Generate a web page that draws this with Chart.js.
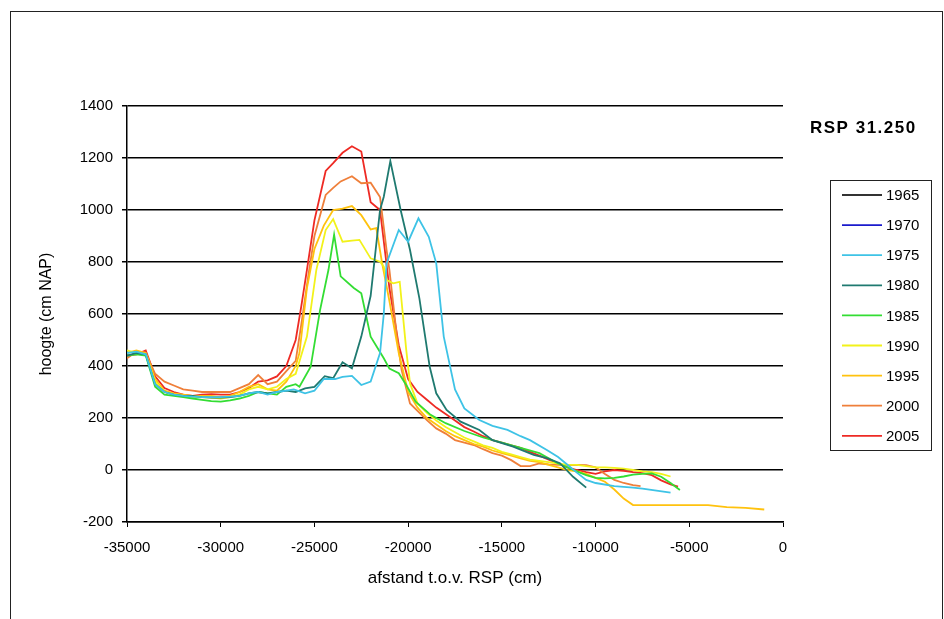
<!DOCTYPE html>
<html>
<head>
<meta charset="utf-8">
<script src="https://cdn.jsdelivr.net/npm/chart.js@4.4.1/dist/chart.umd.min.js"></script>
<style>
  html, body { margin: 0; padding: 0; background: #fff; overflow: hidden; }
  #frame { position: absolute; left: 10px; top: 11px; width: 931px; height: 700px; border: 1px solid #222; }
  #chart { position: absolute; left: 0; top: 0; }
</style>
</head>
<body>
<div id="frame"></div>
<canvas id="chart" width="944" height="619"></canvas>
<script>
// profielmetingen RSP 31.250: [afstand t.o.v. RSP (cm), hoogte (cm NAP)]
const years = ['1965', '1970', '1975', '1980', '1985', '1990', '1995', '2000', '2005'];
const lineColors = ['#333333', '#1a1acc', '#3ec3e6', '#1f7a70', '#33dd33', '#f2f21a', '#ffc20e', '#ef7f3a', '#ee2a24'];

const afstandTicks = [-35000, -30000, -25000, -20000, -15000, -10000, -5000, 0];
const hoogteTicks = [-200, 0, 200, 400, 600, 800, 1000, 1200, 1400];

const p1965 = [];
const p1970 = [];
const p1975 = [
    [-35000, 450], [-34500, 455], [-34000, 445], [-33500, 330], [-33000, 300], [-32500, 290],
    [-32000, 285], [-31500, 282], [-31000, 280], [-30500, 280], [-30000, 280], [-29500, 282],
    [-29000, 285], [-28500, 295], [-28000, 300], [-27500, 290], [-27000, 300], [-26500, 305],
    [-26100, 310], [-25500, 295], [-25000, 305], [-24500, 350], [-23900, 350], [-23500, 358],
    [-23000, 362], [-22500, 327], [-22000, 340], [-21500, 450], [-21300, 600], [-21150, 795],
    [-20500, 923], [-20000, 878], [-19450, 968], [-18900, 897], [-18500, 795], [-18100, 513],
    [-17500, 310], [-17000, 237], [-16200, 192], [-15500, 170], [-14700, 154], [-14000, 130],
    [-13500, 115], [-12600, 77], [-12000, 50], [-11500, 20], [-11000, -10], [-10500, -38],
    [-10000, -50], [-9000, -62], [-8000, -68], [-7500, -72], [-6000, -87],
];
const p1980 = [
    [-35000, 440], [-34500, 450], [-34000, 445], [-33500, 330], [-33000, 300], [-32500, 290],
    [-32000, 285], [-31500, 285], [-31000, 280], [-30500, 278], [-30000, 278], [-29500, 280],
    [-29000, 285], [-28500, 295], [-28000, 300], [-27500, 295], [-27000, 300], [-26500, 305],
    [-26000, 300], [-25500, 314], [-25000, 320], [-24450, 361], [-24000, 353], [-23500, 414],
    [-23000, 391], [-22500, 513], [-22000, 670], [-21500, 1000], [-21300, 1051], [-20950, 1188],
    [-20400, 1000], [-19900, 846], [-19400, 660], [-18850, 397], [-18500, 295], [-17950, 231],
    [-17200, 186], [-16200, 154], [-15500, 115], [-14400, 90], [-13300, 58], [-12600, 46],
    [-11900, 26], [-11200, -26], [-10500, -68],
];
const p1985 = [
    [-35000, 440], [-34500, 445], [-34000, 440], [-33500, 320], [-33000, 290], [-32500, 285],
    [-32000, 280], [-31500, 275], [-31000, 270], [-30500, 265], [-30000, 263], [-29500, 268],
    [-29000, 275], [-28500, 285], [-28000, 300], [-27500, 295], [-27000, 290], [-26500, 320],
    [-26000, 330], [-25800, 320], [-25200, 397], [-24700, 615], [-24250, 770], [-23950, 905],
    [-23600, 745], [-22900, 700], [-22500, 680], [-22000, 513], [-21300, 430], [-21000, 390],
    [-20500, 372], [-20100, 327], [-19600, 263], [-18800, 212], [-18000, 180], [-17000, 150],
    [-16000, 125], [-15000, 105], [-14000, 85], [-13000, 65], [-12500, 45], [-12000, 25],
    [-11500, 10], [-11000, -5], [-10500, -20], [-10000, -30], [-9500, -32], [-9000, -30],
    [-8500, -25], [-8000, -18], [-7500, -15], [-7000, -13], [-6500, -26], [-6000, -50], [-5500, -77],
];
const p1990 = [
    [-35000, 460], [-34500, 450], [-34000, 445], [-33500, 340], [-33000, 300], [-32500, 290],
    [-32000, 285], [-31500, 280], [-31000, 280], [-30500, 278], [-30000, 275], [-29500, 280],
    [-29000, 290], [-28500, 310], [-28000, 320], [-27500, 310], [-27000, 320], [-26500, 350],
    [-26000, 370], [-25400, 513], [-24900, 769], [-24400, 923], [-24000, 965], [-23500, 878],
    [-23000, 882], [-22600, 885], [-22000, 814], [-21500, 801], [-21300, 782], [-21150, 731],
    [-20800, 718], [-20450, 724], [-20100, 461], [-19900, 333], [-19500, 256], [-19000, 220],
    [-18500, 190], [-18000, 165], [-17500, 145], [-17000, 125], [-16500, 110], [-16000, 95],
    [-15500, 85], [-15000, 70], [-14500, 60], [-14000, 50], [-13500, 40], [-13000, 35],
    [-12500, 30], [-12000, 25], [-11500, 20], [-11000, 20], [-10500, 15], [-10000, 10],
    [-9500, 10], [-9000, 8], [-8500, 5], [-8000, 0], [-7500, -5], [-7000, -8], [-6500, -15], [-6000, -25],
];
const p1995 = [
    [-35000, 450], [-34500, 460], [-34000, 450], [-33500, 350], [-33000, 305], [-32500, 295],
    [-32000, 290], [-31500, 285], [-31000, 285], [-30500, 285], [-30000, 280], [-29500, 285],
    [-29000, 300], [-28500, 320], [-28000, 330], [-27500, 310], [-27000, 305], [-26500, 340],
    [-26000, 400], [-25800, 450], [-25400, 700], [-25000, 850], [-24500, 940], [-24000, 1000],
    [-23500, 1005], [-23000, 1015], [-22500, 980], [-22000, 925], [-21700, 930], [-21400, 800],
    [-21000, 650], [-20500, 450], [-20000, 300], [-19500, 240], [-19000, 200], [-18500, 175],
    [-18000, 150], [-17500, 130], [-17000, 115], [-16500, 100], [-16000, 90], [-15500, 75],
    [-15000, 65], [-14500, 55], [-14000, 45], [-13500, 35], [-13000, 30], [-12500, 20],
    [-12000, 10], [-11500, 0], [-11000, -5], [-10500, -15], [-10000, -30], [-9500, -45],
    [-9000, -75], [-8500, -110], [-8000, -135], [-7000, -135], [-6000, -135], [-5000, -135],
    [-4000, -135], [-3000, -143], [-2000, -146], [-1000, -152],
];
const p2000 = [
    [-35000, 430], [-34500, 455], [-34000, 450], [-33500, 370], [-33000, 340], [-32500, 325],
    [-32000, 310], [-31500, 305], [-31000, 300], [-30500, 300], [-30000, 300], [-29500, 300],
    [-29000, 315], [-28500, 330], [-28000, 365], [-27500, 330], [-27000, 340], [-26500, 380],
    [-26000, 420], [-25700, 560], [-25300, 760], [-25000, 900], [-24400, 1058], [-24000, 1085],
    [-23600, 1110], [-23000, 1130], [-22500, 1103], [-22000, 1105], [-21500, 1050], [-21150, 846],
    [-21000, 770], [-20600, 513], [-20350, 385], [-19900, 256], [-19000, 192], [-18500, 160],
    [-18000, 140], [-17500, 115], [-17000, 105], [-16500, 96], [-16000, 80], [-15500, 65],
    [-15000, 55], [-14500, 38], [-14000, 15], [-13500, 15], [-13000, 25], [-12500, 22],
    [-12000, 20], [-11500, 19], [-11000, 20], [-10500, 19], [-10000, 10], [-9500, -15],
    [-9000, -38], [-8500, -50], [-8000, -58], [-7600, -62],
];
const p2005 = [
    [-35000, 440], [-34500, 445], [-34000, 460], [-33500, 360], [-33000, 315], [-32500, 300],
    [-32000, 290], [-31500, 285], [-31000, 290], [-30500, 292], [-30000, 290], [-29500, 290],
    [-29000, 300], [-28500, 315], [-28000, 340], [-27500, 345], [-27000, 360], [-26500, 400],
    [-26000, 500], [-25700, 630], [-25400, 770], [-25000, 960], [-24400, 1150], [-24000, 1180],
    [-23500, 1220], [-23000, 1245], [-22500, 1225], [-22000, 1030], [-21500, 1000], [-21000, 700],
    [-20500, 480], [-20000, 350], [-19500, 300], [-19000, 270], [-18500, 240], [-18000, 215],
    [-17500, 190], [-17000, 165], [-16500, 148], [-16000, 130], [-15500, 115], [-15000, 105],
    [-14500, 95], [-14000, 85], [-13500, 70], [-13000, 55], [-12500, 40], [-12000, 25],
    [-11500, 10], [-11000, 0], [-10500, -8], [-10000, -15], [-9500, -5], [-9000, 0],
    [-8500, -3], [-8000, -8], [-7500, -12], [-7000, -20], [-6500, -40], [-6000, -55], [-5600, -64],
];

const profiles = [p1965, p1970, p1975, p1980, p1985, p1990, p1995, p2000, p2005];

const FONT = "'Liberation Sans', Arial, sans-serif";

// legend box on the right + station title, drawn like the excel original
const sideLegend = {
    id: 'sideLegend',
    afterDraw(chart) {
        const ctx = chart.ctx;
        ctx.save();
        ctx.fillStyle = '#000';
        ctx.font = 'bold 17px ' + FONT;
        ctx.textBaseline = 'middle';
        ctx.textAlign = 'left';
        ctx.letterSpacing = '1.5px';
        ctx.fillText('RSP 31.250', 810, 128);
        ctx.letterSpacing = '0px';

        ctx.strokeStyle = '#222';
        ctx.lineWidth = 1;
        ctx.strokeRect(830.5, 180.5, 101, 270);

        ctx.font = '15px ' + FONT;
        chart.data.datasets.forEach((ds, i) => {
            const y = 195 + i * 30.1;
            ctx.strokeStyle = ds.borderColor;
            ctx.lineWidth = 1.8;
            ctx.beginPath();
            ctx.moveTo(842, y);
            ctx.lineTo(882, y);
            ctx.stroke();
            ctx.fillStyle = '#000';
            ctx.fillText(ds.label, 886, y + 1);
        });
        ctx.restore();
    },
};

new Chart(document.getElementById('chart'), {
    type: 'line',
    data: {
        datasets: years.map((yr, i) => ({
            label: yr,
            data: profiles[i].map(([x, y]) => ({ x, y })),
            borderColor: lineColors[i],
            backgroundColor: lineColors[i],
            borderWidth: 1.8,
            pointRadius: 0,
            tension: 0,
            fill: false,
        })),
    },
    options: {
        responsive: false,
        animation: false,
        layout: { padding: { left: 0, right: 161, top: 106, bottom: 0 } },
        plugins: {
            legend: { display: false },
            tooltip: { enabled: false },
        },
        scales: {
            x: {
                type: 'linear',
                min: -35000,
                max: 0,
                afterBuildTicks: s => { s.ticks = afstandTicks.map(v => ({ value: v })); },
                afterFit: s => { s.height = 97; },
                ticks: {
                    color: '#000',
                    font: { family: FONT, size: 15 },
                    padding: 12,
                    maxRotation: 0,
                    autoSkip: false,
                    callback: v => String(v),
                },
                grid: { drawOnChartArea: false, color: '#000', tickLength: 5 },
                border: { color: '#000', width: 1.5 },
                title: {
                    display: true,
                    text: 'afstand t.o.v. RSP (cm)',
                    color: '#000',
                    font: { family: FONT, size: 17 },
                    padding: { top: 0, bottom: 30 },
                },
            },
            y: {
                min: -200,
                max: 1400,
                afterBuildTicks: s => { s.ticks = hoogteTicks.map(v => ({ value: v })); },
                afterFit: s => { s.width = 127; },
                ticks: {
                    color: '#000',
                    font: { family: FONT, size: 15 },
                    padding: 9,
                    callback: v => String(v),
                },
                grid: { color: '#000', lineWidth: 1.5, tickLength: 5 },
                border: { color: '#000', width: 1.5 },
                title: {
                    display: true,
                    text: 'hoogte (cm NAP)',
                    color: '#000',
                    font: { family: FONT, size: 16 },
                    padding: { top: 37, bottom: 0 },
                },
            },
        },
    },
    plugins: [sideLegend],
});
</script>
</body>
</html>
